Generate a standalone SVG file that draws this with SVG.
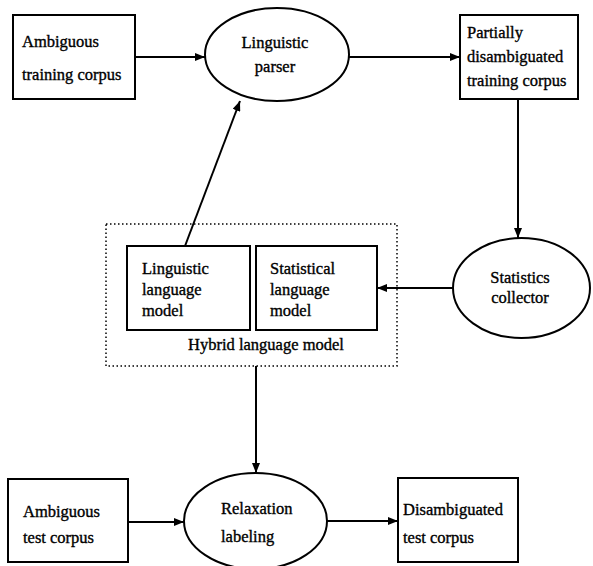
<svg xmlns="http://www.w3.org/2000/svg" width="593" height="566" viewBox="0 0 593 566">
<defs>
<style>
.n{fill:#fff;stroke:#000;stroke-width:2}
.t{font-size:16.5px;fill:#000;stroke:#000;stroke-width:0.35}
.c{text-anchor:middle}
.e{fill:none;stroke:#000;stroke-width:2}
.d{fill:none;stroke:#000;stroke-width:1.5;stroke-dasharray:1.5 2.5}
</style>
<marker id="a" viewBox="0 0 10 8" refX="10" refY="4" markerWidth="10" markerHeight="8" markerUnits="userSpaceOnUse" orient="auto">
<path d="M0,0 L10,4 L0,8 z" fill="#000"/>
</marker>
</defs>
<rect width="593" height="566" fill="#fff"/>
<g id="connectors">
<line class="e" x1="135" y1="57" x2="205" y2="57" marker-end="url(#a)"/>
<line class="e" x1="349" y1="57" x2="460" y2="57" marker-end="url(#a)"/>
<line class="e" x1="518" y1="99" x2="518" y2="238" marker-end="url(#a)"/>
<line class="e" x1="453" y1="288" x2="377" y2="288" marker-end="url(#a)"/>
<line class="e" x1="185" y1="246" x2="240" y2="101" marker-end="url(#a)"/>
<line class="e" x1="256" y1="366" x2="256" y2="473" marker-end="url(#a)"/>
<line class="e" x1="128" y1="522" x2="184" y2="522" marker-end="url(#a)"/>
<line class="e" x1="327" y1="521" x2="398" y2="521" marker-end="url(#a)"/>
</g>
<g font-family="'Liberation Serif', 'DejaVu Serif', 'Times New Roman', serif">
<g id="ambiguous-training">
<rect class="n" x="13" y="15" width="122" height="84"/>
<text class="t" x="22" y="47">Ambiguous</text>
<text class="t" x="22" y="80">training corpus</text>
</g>
<g id="linguistic-parser">
<ellipse class="n" cx="277" cy="54.5" rx="72" ry="46.5"/>
<text class="t c" x="275" y="48">Linguistic</text>
<text class="t c" x="275" y="72">parser</text>
</g>
<g id="partially-disambiguated">
<rect class="n" x="460" y="15" width="118" height="84"/>
<text class="t" x="467" y="38">Partially</text>
<text class="t" x="467" y="62">disambiguated</text>
<text class="t" x="467" y="86">training corpus</text>
</g>
<g id="statistics-collector">
<ellipse class="n" cx="521.5" cy="288" rx="68.5" ry="50"/>
<text class="t c" x="520" y="283">Statistics</text>
<text class="t c" x="520" y="303">collector</text>
</g>
<g id="hybrid-language-model">
<rect class="d" x="106" y="224" width="291" height="142"/>
<text class="t c" x="266" y="350">Hybrid language model</text>
</g>
<g id="linguistic-language-model">
<rect class="n" x="127" y="246" width="123" height="84"/>
<text class="t" x="142" y="274">Linguistic</text>
<text class="t" x="142" y="295">language</text>
<text class="t" x="142" y="316">model</text>
</g>
<g id="statistical-language-model">
<rect class="n" x="256" y="246" width="121" height="84"/>
<text class="t" x="270" y="274">Statistical</text>
<text class="t" x="270" y="295">language</text>
<text class="t" x="270" y="316">model</text>
</g>
<g id="ambiguous-test">
<rect class="n" x="8" y="479" width="120" height="83"/>
<text class="t" x="23" y="517">Ambiguous</text>
<text class="t" x="23" y="543">test corpus</text>
</g>
<g id="relaxation-labeling">
<ellipse class="n" cx="255.5" cy="521" rx="71.5" ry="48"/>
<text class="t" x="221" y="514">Relaxation</text>
<text class="t" x="221" y="542">labeling</text>
</g>
<g id="disambiguated-test">
<rect class="n" x="398" y="478" width="120" height="84"/>
<text class="t" x="403" y="515">Disambiguated</text>
<text class="t" x="403" y="543">test corpus</text>
</g>
</g>
</svg>
